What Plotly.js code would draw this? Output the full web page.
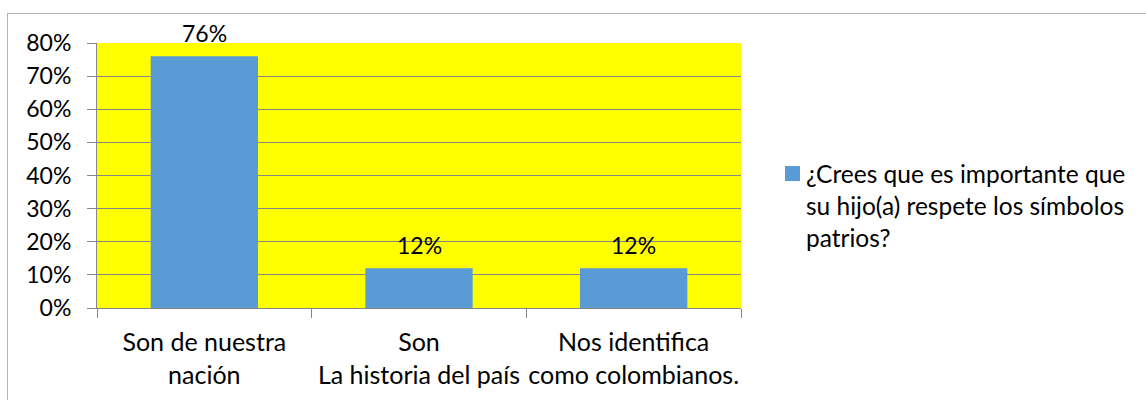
<!DOCTYPE html>
<html>
<head>
<meta charset="utf-8">
<script src="https://cdn.plot.ly/plotly-3.0.1.min.js"></script>
<style>
  html, body { margin: 0; padding: 0; background: #ffffff; overflow: hidden; }
  #frame { position: absolute; left: 7px; top: 13px; width: 2000px; height: 1000px; border: 1px solid #b4b4b4; }
  #chart { position: absolute; left: 0; top: 0; width: 1146px; height: 400px; }
</style>
</head>
<body>
<div id="frame"></div>
<div id="chart"></div>
<script>
const categories = ["Son de nuestra<br>nación", "Son<br>La historia del país", "Nos identifica<br>como colombianos."];
const values = [0.76, 0.12, 0.12];
const valueLabels = ["76%", "12%", "12%"];
const seriesName = "¿Crees que es importante que<br>su hijo(a) respete los símbolos<br>patrios?";

const FONT = "Lato, 'Open Sans', sans-serif";

const trace = {
  type: "bar",
  x: categories,
  y: values,
  name: seriesName,
  marker: { color: "#5B9BD5", line: { width: 0 } },
  width: 0.5,
  showlegend: true,
  hoverinfo: "x+y"
};

const labelAnnotations = categories.map((c, i) => ({
  x: c,
  y: values[i],
  xref: "x",
  yref: "y",
  text: valueLabels[i],
  showarrow: false,
  yanchor: "middle",
  xanchor: "center",
  yshift: 23,
  font: { family: FONT, size: 23, color: "#000000" }
}));

const layout = {
  width: 1146,
  height: 400,
  paper_bgcolor: "rgba(0,0,0,0)",
  plot_bgcolor: "#FFFF00",
  margin: { l: 97, r: 405, t: 43, b: 92, pad: 0, autoexpand: false },
  font: { family: FONT, color: "#000000" },
  showlegend: true,
  legend: {
    x: 1.0388, xanchor: "left",
    y: 0.592, yanchor: "top",
    valign: "top",
    font: { family: FONT, size: 24.5, color: "#000000" },
    bgcolor: "rgba(0,0,0,0)",
    itemwidth: 30,
    tracegroupgap: 0
  },
  annotations: labelAnnotations,
  xaxis: {
    type: "category",
    tickson: "boundaries",
    ticks: "outside",
    ticklen: 9,
    tickcolor: "#868686",
    tickangle: 0,
    showline: true,
    linecolor: "#868686",
    linewidth: 1,
    showgrid: false,
    tickfont: { family: FONT, size: 25, color: "#000000" },
    ticklabelstandoff: 12,
    fixedrange: true
  },
  yaxis: {
    range: [0, 0.8],
    dtick: 0.1,
    tick0: 0,
    tickformat: ".0%",
    ticks: "outside",
    ticklen: 9,
    tickcolor: "#868686",
    showline: true,
    linecolor: "#868686",
    linewidth: 1,
    showgrid: true,
    gridcolor: "#868686",
    gridwidth: 1,
    zeroline: false,
    tickfont: { family: FONT, size: 23, color: "#000000" },
    ticklabelstandoff: 11,
    fixedrange: true
  },
  bargap: 0.5
};

function fixLegendSymbol(gd) {
  const txt = gd.querySelector(".legend .legendtext");
  gd.querySelectorAll(".legend .legendpoints path").forEach(function (p) {
    p.removeAttribute("transform");
    const pb = p.getBoundingClientRect();
    const tb = txt.getBoundingClientRect();
    const cx = pb.left + pb.width / 2;
    const dx = (tb.left - 13.5) - cx;
    p.setAttribute("transform", "translate(" + dx.toFixed(1) + ",0) scale(1.25)");
  });
}

Plotly.newPlot("chart", [trace], layout, { displayModeBar: false, staticPlot: true }).then(function (gd) {
  fixLegendSymbol(gd);
  setTimeout(function () { fixLegendSymbol(gd); }, 50);
});
</script>
</body>
</html>
